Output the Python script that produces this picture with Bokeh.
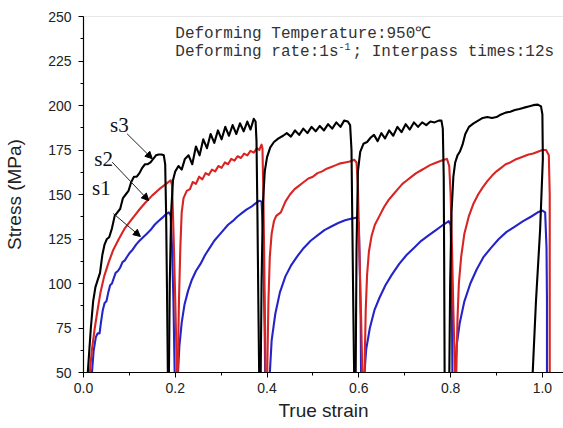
from bokeh.plotting import figure
from bokeh.models import Label, Arrow, NormalHead, Span, SingleIntervalTicker, NumeralTickFormatter
from bokeh.embed import file_html
from bokeh.resources import INLINE

# ---- data (true strain, stress MPa), one list per pass ----
S3_PASSES = [
    [(0.008,45),(0.012,60),(0.016,75),(0.021,90),(0.026,98),(0.031,102),(0.036,106),(0.041,116),(0.046,122),(0.051,125),
     (0.056,126),(0.062,131),(0.068,138),(0.074,140),(0.08,142),(0.086,148),(0.092,150),(0.098,152),(0.104,157),(0.11,160),
     (0.116,160),(0.122,162),(0.128,165),(0.134,167),(0.14,167),(0.146,168),(0.152,170),(0.158,172),(0.164,172.5),(0.17,172.5),
     (0.175,172),(0.178,167),(0.18,140),(0.182,95),(0.184,45)],
    [(0.186,45),(0.188,100),(0.191,140),(0.195,158),(0.2,163),(0.207,166),(0.214,164),(0.221,170),(0.229,172),(0.237,167),
     (0.245,177),(0.253,172),(0.261,181),(0.269,176),(0.277,184),(0.285,179),(0.293,186),(0.301,181),(0.309,188),(0.317,183),
     (0.325,189),(0.333,184),(0.341,190),(0.349,185.5),(0.357,191),(0.364,186.5),(0.371,192.5),(0.375,191),(0.377,180),
     (0.379,140),(0.381,90),(0.383,45)],
    [(0.386,45),(0.388,100),(0.391,145),(0.395,163),(0.4,171),(0.407,176.5),(0.415,179.5),(0.425,181.5),(0.435,183),
     (0.443,184.5),(0.452,182.5),(0.461,186),(0.47,183.5),(0.479,187),(0.488,184.5),(0.497,188),(0.506,185.5),(0.515,188.5),
     (0.524,186),(0.533,189.5),(0.542,187),(0.551,190.5),(0.56,188),(0.568,191.5),(0.576,191),(0.581,189),(0.584,175),
     (0.586,130),(0.588,85),(0.59,45)],
    [(0.593,45),(0.595,120),(0.598,163),(0.603,174),(0.61,178.5),(0.618,179.5),(0.626,182),(0.633,183.5),(0.641,180),
     (0.649,184.5),(0.657,181.5),(0.666,186),(0.675,183),(0.684,188),(0.693,185),(0.702,189.5),(0.711,186.5),(0.72,190.5),
     (0.729,188),(0.738,190.5),(0.747,189),(0.756,191),(0.765,190.5),(0.774,191.5),(0.78,191.5),(0.783,187),(0.785,160),
     (0.786,110),(0.787,45)],
    [(0.797,45),(0.799,100),(0.802,140),(0.806,160),(0.81,168),(0.815,172),(0.82,174),(0.826,178),(0.832,184),(0.84,188),
     (0.85,190),(0.86,191.5),(0.87,193),(0.88,193.5),(0.89,193),(0.9,193.5),(0.91,195),(0.92,196),(0.93,196.5),(0.94,197.5),
     (0.95,198),(0.96,198.8),(0.97,199.5),(0.98,200.2),(0.99,200.5),(0.997,199.5),(1.0,195),(1.001,170),(0.995,130),
     (0.986,90),(0.978,45)],
]

S2_PASSES = [
    [(0.012,45),(0.018,62),(0.024,74),(0.03,84),(0.037,95),(0.045,104),(0.055,112),(0.065,119),(0.077,125),(0.09,131),
     (0.105,136),(0.12,141),(0.135,145.5),(0.15,149.5),(0.165,153),(0.18,156),(0.19,158),(0.193,155),(0.196,130),(0.2,90),
     (0.204,45)],
    [(0.205,45),(0.208,90),(0.211,120),(0.214,140),(0.218,148),(0.225,152),(0.232,153),(0.238,157),(0.245,156),(0.252,160),
     (0.259,158.5),(0.266,162),(0.273,161),(0.28,164),(0.287,163),(0.294,166),(0.301,165),(0.308,168),(0.315,167),(0.322,170),
     (0.329,169),(0.336,171.5),(0.343,170.5),(0.35,173),(0.357,172),(0.364,174.5),(0.371,173.5),(0.378,176),(0.383,175),
     (0.388,178),(0.39,176),(0.392,150),(0.394,110),(0.397,45)],
    [(0.4,45),(0.403,90),(0.406,115),(0.41,128),(0.415,135),(0.42,138),(0.43,140),(0.44,146),(0.45,150),(0.46,153),(0.47,155),
     (0.48,157),(0.49,159),(0.5,160),(0.51,162),(0.52,163),(0.53,164.5),(0.54,165.5),(0.55,166.5),(0.56,167.5),(0.57,168),
     (0.58,168.5),(0.59,169.5),(0.595,168),(0.598,155),(0.601,120),(0.605,80),(0.608,45)],
    [(0.612,45),(0.615,85),(0.618,105),(0.622,118),(0.628,127),(0.635,133),(0.645,138),(0.655,143),(0.665,147),(0.675,150),
     (0.685,153),(0.695,156),(0.705,158),(0.715,160),(0.725,162),(0.735,163.5),(0.745,165),(0.755,166.5),(0.765,167.5),
     (0.775,168.5),(0.785,169.5),(0.792,170),(0.797,166),(0.8,150),(0.803,120),(0.806,85),(0.81,45)],
    [(0.812,45),(0.815,80),(0.818,100),(0.823,115),(0.83,128),(0.84,138),(0.85,145),(0.86,150),(0.87,154),(0.88,157.5),
     (0.89,160.5),(0.9,163),(0.91,165),(0.92,167),(0.93,168),(0.94,169.5),(0.95,170.5),(0.96,171.5),(0.97,172.5),(0.98,173),
     (0.99,174),(1.0,175),(1.008,175),(1.014,172),(1.016,150),(1.016,100),(1.016,45)],
]

S1_PASSES = [
    [(0.017,45),(0.022,62),(0.027,70),(0.031,72),(0.035,72),(0.038,78),(0.042,85),(0.046,89),(0.05,90),(0.054,95),(0.058,99),
     (0.062,100),(0.066,103),(0.07,106),(0.075,107),(0.08,109),(0.085,112),(0.09,113),(0.095,115),(0.1,117),(0.107,119),
     (0.115,122),(0.122,124),(0.13,126),(0.138,128),(0.146,130),(0.155,133),(0.163,135),(0.172,137),(0.18,139),(0.186,140),
     (0.19,138),(0.193,120),(0.196,90),(0.199,45)],
    [(0.205,45),(0.209,65),(0.214,78),(0.22,88),(0.228,96),(0.236,102),(0.245,107),(0.255,111),(0.265,116),(0.275,120),
     (0.285,124),(0.295,127),(0.305,130),(0.315,133),(0.325,135),(0.335,137.5),(0.345,139.5),(0.355,141.5),(0.365,143),
     (0.375,145),(0.383,146.5),(0.388,146),(0.391,130),(0.393,100),(0.395,70),(0.396,45)],
    [(0.405,45),(0.41,68),(0.418,83),(0.428,95),(0.44,104),(0.452,110),(0.465,115),(0.48,120),(0.495,124),(0.51,127),
     (0.525,130),(0.54,132),(0.555,134),(0.57,135.5),(0.585,136.5),(0.596,137),(0.6,134),(0.602,110),(0.604,80),(0.605,45)],
    [(0.611,45),(0.616,63),(0.624,75),(0.634,85),(0.645,92),(0.658,99),(0.672,105),(0.688,111),(0.704,116),(0.72,120),
     (0.736,124),(0.752,127),(0.768,130),(0.784,133),(0.796,135),(0.8,133),(0.802,110),(0.803,80),(0.804,45)],
    [(0.809,45),(0.813,65),(0.82,78),(0.83,90),(0.843,100),(0.857,108),(0.872,115),(0.888,120),(0.905,125),(0.922,129),
     (0.94,132),(0.958,135),(0.975,137.5),(0.99,140),(1.0,141),(1.006,140),(1.009,120),(1.01,90),(1.01,45)],
]

SERIES_NAMES = ["s1", "s2", "s3"]
SERIES_COLORS = {"s1": "#2424c8", "s2": "#d92424", "s3": "#000000"}
Y_TICK_STEP = 25
X_TICK_STEP = 0.2

p = figure(width=563, height=428, x_range=(0, 1.046), y_range=(50, 250),
           output_backend="svg", toolbar_location=None,
           min_border_left=83, min_border_right=0, min_border_top=16, min_border_bottom=56)
p.outline_line_color = None
p.xgrid.visible = False
p.ygrid.visible = False
p.background_fill_color = "white"
p.border_fill_color = "white"

for name, passes in zip(SERIES_NAMES, [S1_PASSES, S2_PASSES, S3_PASSES]):
    xs = [[pt[0] for pt in ps] for ps in passes]
    ys = [[pt[1] for pt in ps] for ps in passes]
    p.multi_line(xs, ys, line_color=SERIES_COLORS[name], line_width=2.1, line_join="round")

# top frame line
p.add_layout(Span(location=250, dimension="width", line_color="#cfcfcf", line_width=1))

for ax, step in ((p.xaxis[0], X_TICK_STEP), (p.yaxis[0], Y_TICK_STEP)):
    ax.ticker = SingleIntervalTicker(interval=step, num_minor_ticks=2)
    ax.axis_line_color = "black"
    ax.axis_line_width = 1.2
    ax.major_tick_line_color = "black"
    ax.minor_tick_line_color = "black"
    ax.major_tick_in = 0
    ax.major_tick_out = 5
    ax.minor_tick_in = 0
    ax.minor_tick_out = 3
    ax.major_label_text_font = "Liberation Sans"
    ax.major_label_text_font_size = "14px"
    ax.major_label_text_color = "#222222"
    ax.axis_label_text_font = "Liberation Sans"
    ax.axis_label_text_font_style = "normal"
    ax.axis_label_text_color = "#222222"

p.xaxis[0].formatter = NumeralTickFormatter(format="0.0")
p.xaxis[0].axis_label = "True strain"
p.xaxis[0].axis_label_text_font_size = "19px"
p.xaxis[0].major_label_standoff = 5
p.xaxis[0].axis_label_standoff = 4
p.yaxis[0].axis_label = "Stress (MPa)"
p.yaxis[0].axis_label_text_font_size = "19px"
p.yaxis[0].major_label_standoff = 7
p.yaxis[0].axis_label_standoff = 20

# header text
mono = "Liberation Mono"
cw = 9.6
p.add_layout(Label(x=0.2, y=240.4, text="Deforming Temperature:950\u2103", text_font=mono,
                   text_font_size="16px", text_baseline="middle", text_color="#333333"))
p.add_layout(Label(x=0.2, y=229.8, text="Deforming rate:1s", text_font=mono,
                   text_font_size="16px", text_baseline="middle", text_color="#333333"))
p.add_layout(Label(x=0.2, y=229.8, x_offset=17 * cw, y_offset=6, text="-1", text_font=mono,
                   text_font_size="10px", text_baseline="middle", text_color="#333333"))
p.add_layout(Label(x=0.2, y=229.8, x_offset=17 * cw + 14, text="; Interpass times:12s", text_font=mono,
                   text_font_size="16px", text_baseline="middle", text_color="#333333"))

# series tags with arrows
TAGS = [("s3", 0.078, 188.8, 0.095, 184.1, 0.150, 170.1),
        ("s2", 0.044, 170.2, 0.0625, 168.2, 0.142, 146.6),
        ("s1", 0.039, 153.4, 0.065, 139.3, 0.124, 126.4)]
for t, tx, ty, x0, y0, x1, y1 in TAGS:
    p.add_layout(Label(x=tx, y=ty, text=t, text_font="Liberation Serif", text_font_size="21px",
                       text_align="center", text_baseline="middle", text_color="#111111"))
    p.add_layout(Arrow(x_start=x0, y_start=y0, x_end=x1, y_end=y1, line_color="#222222", line_width=1,
                       end=NormalHead(size=7, fill_color="black", line_color="black")))

open("out.html", "w").write(file_html(p, INLINE))
